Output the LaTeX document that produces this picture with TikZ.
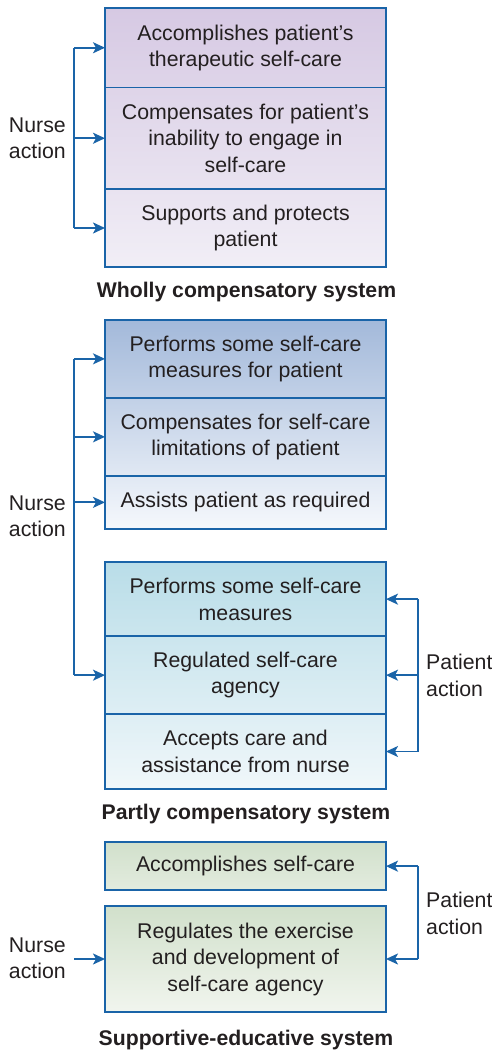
\documentclass[tikz,border=0pt]{standalone}
\usepackage{fontspec}
\setmainfont{Liberation Sans}
\usetikzlibrary{arrows.meta}
\definecolor{lineblue}{RGB}{26,100,168}
\definecolor{txt}{RGB}{35,31,32}
\definecolor{cAt}{RGB}{214,201,227}
\definecolor{cAb}{RGB}{241,238,246}
\definecolor{cBt}{RGB}{163,185,218}
\definecolor{cBb}{RGB}{245,248,252}
\definecolor{cCt}{RGB}{185,221,232}
\definecolor{cCb}{RGB}{240,247,250}
\definecolor{cDt}{RGB}{209,224,203}
\definecolor{cDb}{RGB}{241,245,238}
\newcommand\boxfont{\fontsize{21.3}{26.5}\selectfont}
\newcommand\titlefont{\fontsize{21.2}{25}\selectfont\bfseries}
\tikzset{
  box/.style={draw=lineblue, line width=1.8pt, minimum width=281pt, inner sep=0pt, outer sep=0pt, align=center, font=\boxfont, text=txt},
  lbl/.style={font=\boxfont, text=txt, inner sep=0pt},
  ttl/.style={font=\titlefont, text=txt, inner sep=0pt},
  arr/.style={draw=lineblue, line width=1.8pt, -{Stealth[length=12pt,width=11pt,inset=3pt]}},
  trunk/.style={draw=lineblue, line width=1.8pt},
}
\begin{document}
\begin{tikzpicture}[x=1pt,y=-1pt]
\useasboundingbox (0,0) rectangle (491,1051);
% ---------- Wholly compensatory ----------
\node[box, minimum height=79.5pt, top color=cAt, bottom color=cAt!69!cAb] (w1) at (245.5,47.75) {Accomplishes patient’s\\therapeutic self-care};
\node[box, minimum height=101.5pt, top color=cAt!69!cAb, bottom color=cAt!30!cAb] (w2) at (245.5,138.25) {Compensates for patient’s\\inability to engage in\\self-care};
\node[box, minimum height=78pt, top color=cAt!30!cAb, bottom color=cAb] (w3) at (245.5,228) {Supports and protects\\patient};
\node[ttl] (wt) at (246.5,292.5) {Wholly compensatory system};
\node[lbl, align=right, anchor=east] (wn) at (66,138.5) {Nurse\\action};
\coordinate (wa) at (74,47.75);
\coordinate (wb) at (74,138.25);
\coordinate (wc) at (74,228);
\draw[trunk] (wa) -- (wc);
\draw[arr] (wa) -- (w1.west);
\draw[arr] (wb) -- (w2.west);
\draw[arr] (wc) -- (w3.west);
% ---------- Partly compensatory ----------
\node[box, minimum height=77.7pt, top color=cBt, bottom color=cBt!63!cBb] (p1) at (245.5,358.85) {Performs some self-care\\measures for patient};
\node[box, minimum height=78.3pt, top color=cBt!63!cBb, bottom color=cBt!25!cBb] (p2) at (245.5,436.85) {Compensates for self-care\\limitations of patient};
\node[box, minimum height=52.7pt, top color=cBt!25!cBb, bottom color=cBb] (p3) at (245.5,502.35) {Assists patient as required};
\node[box, minimum height=73.7pt, top color=cCt, bottom color=cCt!67!cCb] (q1) at (245.5,599.15) {Performs some self-care\\measures};
\node[box, minimum height=78.3pt, top color=cCt!67!cCb, bottom color=cCt!33!cCb] (q2) at (245.5,675.15) {Regulated self-care\\agency};
\node[box, minimum height=74.4pt, top color=cCt!33!cCb, bottom color=cCb] (q3) at (245.5,751.5) {Accepts care and\\assistance from nurse};
\node[ttl] (pt) at (246,814.5) {Partly compensatory system};
\node[lbl, align=right, anchor=east] (pn) at (66,516.5) {Nurse\\action};
\node[lbl, align=left, anchor=west] (pp) at (426,675.5) {Patient\\action};
\coordinate (pa) at (74,358.85);
\coordinate (pb) at (74,436.85);
\coordinate (pc) at (74,502.35);
\coordinate (pd) at (74,675.15);
\draw[trunk] (pa) -- (pd);
\draw[arr] (pa) -- (p1.west);
\draw[arr] (pb) -- (p2.west);
\draw[arr] (pc) -- (p3.west);
\draw[arr] (pd) -- (q2.west);
\coordinate (ra) at (417.7,599.15);
\coordinate (rb) at (417.7,675.15);
\coordinate (rc) at (417.7,751.5);
\draw[trunk] (ra) -- (rc);
\draw[arr] (ra) -- (q1.east);
\draw[arr] (rb) -- (q2.east);
\draw[arr] (rc) -- (q3.east);
% ---------- Supportive-educative ----------
\node[box, minimum height=47.7pt, top color=cDt, bottom color=cDt!45!cDb] (s1) at (245.5,866.15) {Accomplishes self-care};
\node[box, minimum height=106pt, top color=cDt, bottom color=cDb] (s2) at (245.5,959) {Regulates the exercise\\and development of\\self-care agency};
\node[ttl] (st) at (246,1040) {Supportive-educative system};
\node[lbl, align=right, anchor=east] (sn) at (66,958.5) {Nurse\\action};
\node[lbl, align=left, anchor=west] (sp) at (426,913.5) {Patient\\action};
\coordinate (sa) at (74,959);
\draw[arr] (sa) -- (s2.west);
\coordinate (ta) at (417.7,866.15);
\coordinate (tb) at (417.7,959);
\draw[trunk] (ta) -- (tb);
\draw[arr] (ta) -- (s1.east);
\draw[arr] (tb) -- (s2.east);
\end{tikzpicture}
\end{document}
